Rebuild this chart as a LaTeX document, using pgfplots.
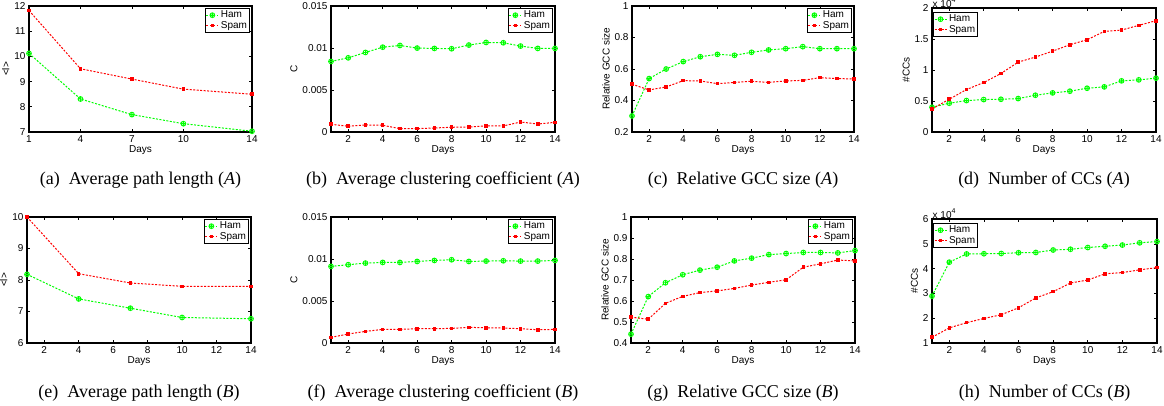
\documentclass[border=0pt]{standalone}
\usepackage{fontspec}
\setmainfont{Liberation Serif}
\newfontfamily\arial{Liberation Sans}
\usepackage{pgfplots}
\pgfplotsset{compat=1.18}
\pgfplotsset{
  mystyle/.style={
    scale only axis, width=224pt, height=126pt, xmin=1, xmax=14,
    axis line style={line width=1.1pt},
    tick align=inside, major tick length=3pt,
    tick style={black, line width=0.6pt},
    ticklabel style={font=\arial\fontsize{10}{12}\selectfont},
    label style={font=\arial\fontsize{10}{12}\selectfont},
    /pgf/number format/assume math mode=true,
    scaled y ticks=false, scaled x ticks=false,
    xlabel=Days,
    xlabel style={yshift=4pt},
    ylabel style={yshift=-2pt},
    xtick={2,4,6,8,10,12,14},
    legend cell align=left,
    legend style={draw=black, line width=1pt, font=\arial\fontsize{10}{11}\selectfont,
      inner sep=0.5pt, row sep=-2pt, at={(1,1)}, anchor=north east, xshift=-2pt, yshift=-2pt,
      legend image code/.code={\draw[mark repeat=2,mark phase=2,##1] plot coordinates {(0pt,0pt)(6pt,0pt)(12pt,0pt)};}},
  },
  lpos/.style={legend style={at={(0,1)}, anchor=north west, xshift=3pt, yshift=-2pt}},
  ham/.style={color=green, line width=1pt, dash pattern=on 2pt off 1.5pt, mark=oplus, mark size=2.4pt, mark options={solid, line width=0.9pt}},
  spam/.style={color=red, line width=1pt, dash pattern=on 2pt off 1.5pt, mark=square*, mark size=1.3pt, mark options={solid}},
}
\newcommand{\capfont}{\fontsize{18}{21}\selectfont}
\begin{document}
\begin{tikzpicture}
\useasboundingbox (0pt,0pt) rectangle (1164pt,-406pt);
% (a)
\begin{axis}[mystyle, at={(29pt,-132pt)}, anchor=south west, width=223pt,
  ymin=7, ymax=12, ytick={7,8,9,10,11,12}, xtick={1,4,7,10,14}, ylabel={<l>}]
\addplot[ham] coordinates {(1,10.12)(4,8.31)(7,7.69)(10,7.33)(14,7.03)};
\addplot[spam] coordinates {(1,11.82)(4,9.51)(7,9.10)(10,8.70)(14,8.50)};
\legend{Ham,Spam}
\end{axis}
% (b)
\begin{axis}[mystyle, at={(331pt,-132pt)}, anchor=south west,
  ymin=0, ymax=0.015, ytick={0,0.005,0.01,0.015}, yticklabels={0,0.005,0.01,0.015}, ylabel={C}]
\addplot[ham] coordinates {(1,0.0084)(2,0.00883)(3,0.00947)(4,0.0101)(5,0.0103)(6,0.00999)(7,0.00995)(8,0.00991)(9,0.01035)(10,0.01066)(11,0.01062)(12,0.01023)(13,0.00995)(14,0.00995)};
\addplot[spam] coordinates {(1,0.00092)(2,0.00068)(3,0.00084)(4,0.0008)(5,0.0004)(6,0.0004)(7,0.00048)(8,0.00056)(9,0.0006)(10,0.00072)(11,0.00072)(12,0.00119)(13,0.00095)(14,0.00115)};
\legend{Ham,Spam}
\end{axis}
% (c)
\begin{axis}[mystyle, at={(632pt,-132pt)}, anchor=south west, width=222pt,
  ymin=0.2, ymax=1, ytick={0.2,0.4,0.6,0.8,1}, yticklabels={0.2,0.4,0.6,0.8,1}, ylabel={Relative GCC size}]
\addplot[ham] coordinates {(1,0.302)(2,0.539)(3,0.600)(4,0.647)(5,0.678)(6,0.693)(7,0.687)(8,0.706)(9,0.721)(10,0.729)(11,0.742)(12,0.729)(13,0.729)(14,0.729)};
\addplot[spam] coordinates {(1,0.503)(2,0.467)(3,0.486)(4,0.526)(5,0.524)(6,0.507)(7,0.515)(8,0.522)(9,0.515)(10,0.524)(11,0.528)(12,0.545)(13,0.539)(14,0.537)};
\legend{Ham,Spam}
\end{axis}
% (d)
\begin{axis}[mystyle, lpos, clip=false, at={(932pt,-132pt)}, anchor=south west, height=124pt,
  ymin=0, ymax=2, ytick={0,0.5,1,1.5,2}, yticklabels={0,0.5,1,1.5,2}, ylabel={\#CCs}]
\addplot[ham] coordinates {(1,0.40)(2,0.464)(3,0.507)(4,0.523)(5,0.528)(6,0.539)(7,0.593)(8,0.631)(9,0.658)(10,0.706)(11,0.728)(12,0.825)(13,0.841)(14,0.868)};
\addplot[spam] coordinates {(1,0.372)(2,0.528)(3,0.685)(4,0.798)(5,0.943)(6,1.127)(7,1.208)(8,1.305)(9,1.407)(10,1.488)(11,1.623)(12,1.644)(13,1.72)(14,1.795)};
\legend{Ham,Spam}
\node[anchor=south west, inner sep=0.5pt, font=\arial\fontsize{10}{12}\selectfont] at (rel axis cs:0,1) {x 10\raisebox{0.9ex}{\fontsize{7}{8}\selectfont 4}};
\end{axis}
% (e)
\begin{axis}[mystyle, at={(27pt,-343pt)}, anchor=south west,
  ymin=6, ymax=10, ytick={6,7,8,9,10}, ylabel={<l>}]
\addplot[ham] coordinates {(1,8.18)(4,7.40)(7,7.105)(10,6.81)(14,6.77)};
\addplot[spam] coordinates {(1,10.0)(4,8.20)(7,7.905)(10,7.80)(14,7.80)};
\legend{Ham,Spam}
\end{axis}
% (f)
\begin{axis}[mystyle, at={(331pt,-343pt)}, anchor=south west,
  ymin=0, ymax=0.015, ytick={0,0.005,0.01,0.015}, yticklabels={0,0.005,0.01,0.015}, ylabel={C}]
\addplot[ham] coordinates {(1,0.00912)(2,0.00932)(3,0.00951)(4,0.00959)(5,0.00959)(6,0.00971)(7,0.00983)(8,0.00991)(9,0.00971)(10,0.00975)(11,0.00979)(12,0.00975)(13,0.00975)(14,0.00983)};
\addplot[spam] coordinates {(1,0.00067)(2,0.00107)(3,0.00138)(4,0.00162)(5,0.00162)(6,0.0017)(7,0.0017)(8,0.00174)(9,0.00186)(10,0.00182)(11,0.00178)(12,0.0017)(13,0.00158)(14,0.00162)};
\legend{Ham,Spam}
\end{axis}
% (g)
\begin{axis}[mystyle, at={(631pt,-343pt)}, anchor=south west,
  ymin=0.4, ymax=1, ytick={0.4,0.5,0.6,0.7,0.8,0.9,1}, yticklabels={0.4,0.5,0.6,0.7,0.8,0.9,1}, ylabel={Relative GCC size}]
\addplot[ham] coordinates {(1,0.442)(2,0.621)(3,0.687)(4,0.725)(5,0.747)(6,0.761)(7,0.791)(8,0.804)(9,0.821)(10,0.826)(11,0.831)(12,0.831)(13,0.829)(14,0.840)};
\addplot[spam] coordinates {(1,0.523)(2,0.513)(3,0.589)(4,0.622)(5,0.640)(6,0.648)(7,0.660)(8,0.676)(9,0.689)(10,0.701)(11,0.761)(12,0.777)(13,0.795)(14,0.791)};
\legend{Ham,Spam}
\end{axis}
% (h)
\begin{axis}[mystyle, lpos, clip=false, at={(932pt,-343pt)}, anchor=south west, width=225pt, height=124pt,
  ymin=1, ymax=6, ytick={1,2,3,4,5,6}, ylabel={\#CCs}]
\addplot[ham] coordinates {(1,2.89)(2,4.26)(3,4.59)(4,4.60)(5,4.61)(6,4.64)(7,4.65)(8,4.75)(9,4.78)(10,4.85)(11,4.90)(12,4.95)(13,5.04)(14,5.09)};
\addplot[spam] coordinates {(1,1.23)(2,1.61)(3,1.82)(4,1.99)(5,2.14)(6,2.42)(7,2.82)(8,3.07)(9,3.42)(10,3.54)(11,3.79)(12,3.84)(13,3.95)(14,4.04)};
\legend{Ham,Spam}
\node[anchor=south west, inner sep=0.5pt, font=\arial\fontsize{10}{12}\selectfont] at (rel axis cs:0,1) {x 10\raisebox{0.9ex}{\fontsize{7}{8}\selectfont 4}};
\end{axis}
% captions
\node[anchor=base, font=\capfont] at (140.5pt,-185pt) {(a)\enspace Average path length (\textit{A})};
\node[anchor=base, font=\capfont] at (443pt,-185pt) {(b)\enspace Average clustering coefficient (\textit{A})};
\node[anchor=base, font=\capfont] at (743pt,-185pt) {(c)\enspace Relative GCC size (\textit{A})};
\node[anchor=base, font=\capfont] at (1044pt,-185pt) {(d)\enspace Number of CCs (\textit{A})};
\node[anchor=base, font=\capfont] at (139pt,-397pt) {(e)\enspace Average path length (\textit{B})};
\node[anchor=base, font=\capfont] at (443pt,-397pt) {(f)\enspace Average clustering coefficient (\textit{B})};
\node[anchor=base, font=\capfont] at (743pt,-397pt) {(g)\enspace Relative GCC size (\textit{B})};
\node[anchor=base, font=\capfont] at (1044.5pt,-397pt) {(h)\enspace Number of CCs (\textit{B})};
\end{tikzpicture}
\end{document}
